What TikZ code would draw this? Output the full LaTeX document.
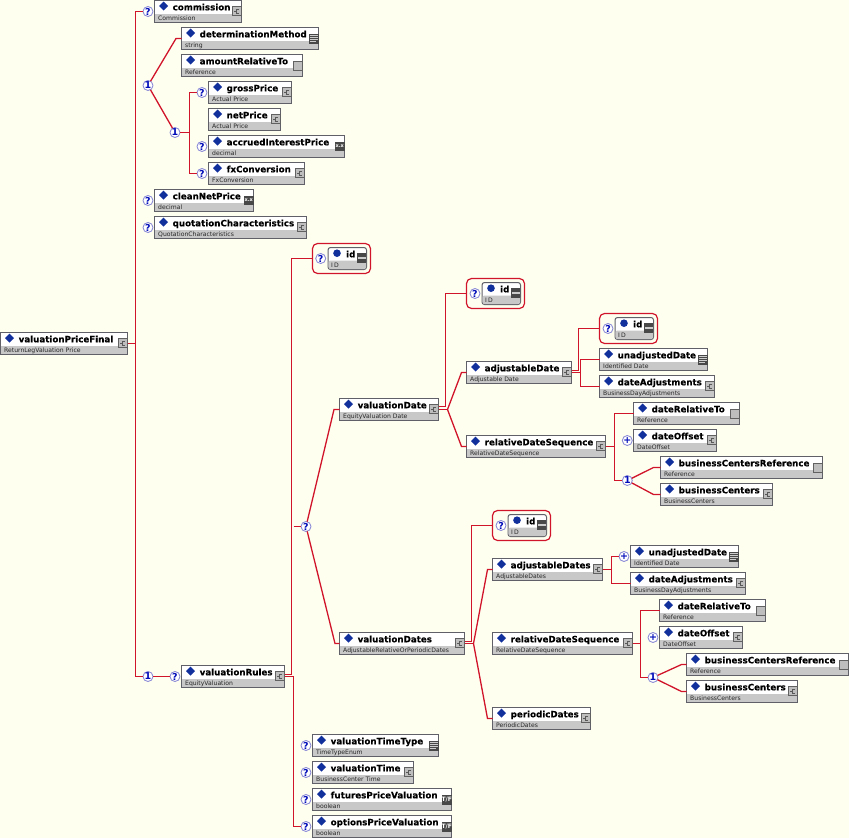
\documentclass[tikz,border=0pt]{standalone}
\usepackage{fontspec}
\setmainfont{DejaVu Sans}
\newfontface\titlef{DejaVu Sans Bold}[FakeBold=0.35]
\definecolor{bgc}{HTML}{FFFFF0}
\definecolor{redl}{HTML}{D0142A}
\definecolor{edgec}{HTML}{606068}
\definecolor{bandc}{HTML}{C8C8C8}
\definecolor{darkc}{HTML}{484848}
\definecolor{icong}{HTML}{BEBEBE}
\definecolor{bluem}{HTML}{12309C}
\definecolor{badgeb}{HTML}{000CB8}
\tikzset{
  conn/.style={draw=redl,line width=1.3pt},
  boxn/.style={draw=edgec,line width=1pt,fill=white,inner sep=0pt,outer sep=0pt,minimum height=22pt},
  attrn/.style={boxn,rounded corners=2.5pt},
  framen/.style={draw=redl,line width=1.2pt,rounded corners=5pt,inner sep=0pt,outer sep=0pt,minimum width=58pt,minimum height=30pt},
  badgen/.style={circle,draw=black!35!blue!45,line width=.9pt,fill=white,inner sep=0pt,outer sep=0pt,minimum size=10pt,text=badgeb,font=\fontsize{9.5}{9.5}\selectfont\bfseries},
  titlen/.style={anchor=base west,inner sep=0pt,font=\fontsize{8.7}{9}\titlef,text=black},
  subn/.style={anchor=base west,inner sep=0pt,font=\fontsize{6.1}{6.5}\selectfont,text=black!85},
  icont/.style={inner sep=0pt,text=white,font=\fontsize{5}{5}\selectfont\bfseries},
}
% icons: #1 right edge, #2 box top, #3 name
\newcommand\icC[3]{\filldraw[draw=black!62,fill=icong,line width=.8pt] (#1-9,#2+6) rectangle (#1-.5,#2+15);
  \draw[black!65,line width=.5pt] (#1-7.5,#2+10.5) -- (#1-5.5,#2+10.5) (#1-2.5,#2+8.5) -- (#1-5.5,#2+8.5) -- (#1-5.5,#2+12.5) -- (#1-2.5,#2+12.5);}
\newcommand\icE[3]{\filldraw[draw=black!62,fill=icong,line width=.8pt] (#1-9,#2+6.5) rectangle (#1-.5,#2+15.5);}
\newcommand\icL[3]{\fill[darkc] (#1-9.5,#2+6) rectangle (#1,#2+16);
  \draw[white!80!black,line width=.6pt] (#1-8.5,#2+8) -- (#1-1,#2+8) (#1-8.5,#2+10) -- (#1-1,#2+10) (#1-8.5,#2+12) -- (#1-1,#2+12) (#1-8.5,#2+14) -- (#1-3,#2+14);}
\newcommand\icX[3]{\fill[darkc] (#1-9.5,#2+6) rectangle (#1,#2+15.5);
  \node[icont] (#3i) at (#1-4.75,#2+11) {x.x};}
\newcommand\icT[3]{\fill[darkc] (#1-9.5,#2+6) rectangle (#1,#2+16);
  \node[icont,font=\fontsize{6}{6}\selectfont\bfseries] (#3i) at (#1-4.75,#2+11) {T/F};}
\newcommand\icI[3]{\fill[darkc] (#1-9.5,#2+5) rectangle (#1-.5,#2+15.5);
  \fill[white!80!black] (#1-9,#2+9.2) rectangle (#1-1,#2+11.3);}
% element: name, left, top, right, title, sub, icon
\newcommand\el[7]{%
  \pgfmathsetmacro\wdd{#4-(#2)}
  \node[boxn,minimum width=\wdd pt] (#1) at ({#2+\wdd/2},#3+11) {};
  \fill[bandc] (#2+.5,#3+13.5) rectangle (#4-.5,#3+21.5);
  \fill[bluem] (#2+9,#3+1) -- (#2+13.5,#3+5.5) -- (#2+9,#3+10) -- (#2+4.5,#3+5.5) -- cycle;
  \node[titlen] (#1t) at (#2+18,#3+9.8) {#5};
  \node[subn] (#1s) at (#2+3.5,#3+20.2) {#6};
  \csname ic#7\endcsname{#4}{#3}{#1}}
% attribute id: frame name, box name, frame left, top
\newcommand\att[4]{%
  \node[framen] (#1) at (#3+29,#4+15) {};
  \node[attrn,minimum width=38.5pt] (#2) at (#3+34.75,#4+15) {};
  \fill[bandc,rounded corners=2pt] (#3+16,#4+17) rectangle (#3+53.5,#4+25.5);
  \fill[bluem] (#3+24.5,#4+9.7) circle (3.8);
  \node[titlen] (#2t) at (#3+33.5,#4+13.8) {id};
  \node[subn] (#2s) at (#3+18.5,#4+24.2) {I\,D};
  \icI{#3+54}{#4+4}{#2}}
\newcommand\bd[4]{\node[badgen] (#1) at (#2,#3) {#4};}
\begin{document}
\begin{tikzpicture}[x=1pt,y=-1pt]
\useasboundingbox (0,0) rectangle (849,838);
\fill[bgc] (0,0) rectangle (849,838);
% elements
\el{vpf}{0.5}{332.5}{127.5}{valuationPriceFinal}{ReturnLegValuation Price}{C}
\el{com}{154.5}{0.5}{241.5}{commission}{Commission}{C}
\el{dm}{181.5}{27.5}{318.5}{determinationMethod}{string}{L}
\el{art}{181.5}{54.5}{302.5}{amountRelativeTo}{Reference}{E}
\el{gp}{208.5}{81.5}{291.5}{grossPrice}{Actual Price}{C}
\el{np}{208.5}{108.5}{280.5}{netPrice}{Actual Price}{C}
\el{aip}{208.5}{135.5}{344.5}{accruedInterestPrice}{decimal}{X}
\el{fx}{208.5}{162.5}{304.5}{fxConversion}{FxConversion}{C}
\el{cnp}{154.5}{189.5}{253.5}{cleanNetPrice}{decimal}{X}
\el{qc}{154.5}{216.5}{306.5}{quotationCharacteristics}{QuotationCharacteristics}{C}
\el{vr}{181.5}{665.5}{284.5}{valuationRules}{EquityValuation}{C}
\att{fa}{ia}{312.5}{243.5}
\el{vd}{339.5}{398.5}{438.5}{valuationDate}{EquityValuation Date}{C}
\att{fb}{ib}{466.5}{278.5}
\el{ad}{466.5}{361.5}{571.5}{adjustableDate}{Adjustable Date}{C}
\el{rs}{466.5}{435.5}{605.5}{relativeDateSequence}{RelativeDateSequence}{C}
\att{fc}{ic}{599.5}{313.5}
\el{ud}{599.5}{348.5}{707.5}{unadjustedDate}{Identified Date}{L}
\el{da}{599.5}{375.5}{714.5}{dateAdjustments}{BusinessDayAdjustments}{C}
\el{drt}{633.5}{402.5}{739.5}{dateRelativeTo}{Reference}{E}
\el{dof}{633.5}{429.5}{716.5}{dateOffset}{DateOffset}{C}
\el{bcr}{660.5}{456.5}{822.5}{businessCentersReference}{Reference}{E}
\el{bc}{660.5}{483.5}{772.5}{businessCenters}{BusinessCenters}{C}
\el{vds}{339.5}{632.5}{464.5}{valuationDates}{AdjustableRelativeOrPeriodicDates}{C}
\att{fd}{id}{492.5}{510.5}
\el{ads}{492.5}{558.5}{602.5}{adjustableDates}{AdjustableDates}{C}
\el{rsb}{492.5}{632.5}{632.5}{relativeDateSequence}{RelativeDateSequence}{C}
\el{pd}{492.5}{707.5}{590.5}{periodicDates}{PeriodicDates}{C}
\el{udb}{630.5}{545.5}{738.5}{unadjustedDate}{Identified Date}{L}
\el{dab}{630.5}{572.5}{745.5}{dateAdjustments}{BusinessDayAdjustments}{C}
\el{drb}{659.5}{599.5}{765.5}{dateRelativeTo}{Reference}{E}
\el{dob}{659.5}{626.5}{742.5}{dateOffset}{DateOffset}{C}
\el{bcrb}{686.5}{653.5}{848.5}{businessCentersReference}{Reference}{E}
\el{bcb}{686.5}{680.5}{797.5}{businessCenters}{BusinessCenters}{C}
\el{vtt}{312.5}{734.5}{438.5}{valuationTimeType}{TimeTypeEnum}{L}
\el{vt}{312.5}{761.5}{413.5}{valuationTime}{BusinessCenter Time}{C}
\el{fpv}{312.5}{788.5}{451.5}{futuresPriceValuation}{boolean}{T}
\el{opv}{312.5}{815.5}{451.5}{optionsPriceValuation}{boolean}{T}
% badges
\bd{bCom}{148}{11.5}{?}
\bd{bCh}{148}{85.5}{1}
\bd{bCn}{148}{200.5}{?}
\bd{bQc}{148}{227.5}{?}
\bd{bCh2}{175}{132.5}{1}
\bd{bGp}{202}{92.5}{?}
\bd{bAi}{202}{146.5}{?}
\bd{bFx}{202}{173.5}{?}
\bd{bR1}{148}{676.5}{1}
\bd{bR2}{175}{676.5}{?}
\bd{bIa}{320.7}{258.5}{?}
\bd{bSq}{306}{526.5}{?}
\bd{bIb}{475}{293.5}{?}
\bd{bIc}{608}{328.5}{?}
\bd{bPo}{627.3}{440.5}{+}
\bd{bCo}{627.3}{480.5}{1}
\bd{bId}{501}{525.5}{?}
\bd{bUd}{624}{556.5}{+}
\bd{bPp}{653}{637.5}{+}
\bd{bCp}{653}{677.5}{1}
\bd{bTt}{306}{745.5}{?}
\bd{bTi}{306}{772.5}{?}
\bd{bFu}{306}{799.5}{?}
\bd{bOp}{306}{826.5}{?}
% junctions
\coordinate (tA) at (135.5,11.5);
\coordinate (tB) at (135.5,676.5);
\coordinate (cD) at (176,38.5);
\coordinate (c2T) at (189.5,92.5);
\coordinate (c2M) at (189.5,132.5);
\coordinate (c2B) at (189.5,173.5);
\coordinate (vrU) at (291.5,674.5);
\coordinate (vrD) at (293.5,676.5);
\coordinate (sU) at (334,409.5);
\coordinate (sD) at (335,643.5);
\coordinate (vdU) at (445.5,406.5);
\coordinate (vdD) at (447.5,409.5);
\coordinate (vdA) at (461.5,372.5);
\coordinate (vdB) at (461.5,446.5);
\coordinate (adU) at (578.5,370.5);
\coordinate (adD) at (580.5,372.5);
\coordinate (rsJ) at (614.5,446.5);
\coordinate (boA) at (653.5,467.5);
\coordinate (boB) at (653.5,494.5);
\coordinate (vsU) at (471.5,641.5);
\coordinate (vsD) at (473.5,643.5);
\coordinate (vsA) at (487.5,569.5);
\coordinate (vsB) at (487.5,718.5);
\coordinate (adsJ) at (611.5,569.5);
\coordinate (rbJ) at (640.5,643.5);
\coordinate (bpA) at (681.5,664.5);
\coordinate (bpB) at (681.5,691.5);
% connectors
\draw[conn] (bCom) -- (tA) -- (tB) -- (bR1);
\draw[conn] (vpf.east) -- (vpf.east -| tA);
\draw[conn] (bR1) -- (bR2);
\draw[conn] (bCh) -- (cD) -- (dm.west);
\draw[conn] (bCh) -- (bCh2);
\draw[conn] (bCh2) -- (c2M);
\draw[conn] (bGp) -- (c2T) -- (c2B) -- (bFx);
\draw[conn] (vr.east |- vrU) -- (vrU) -- (vrU |- fa.west) -- (fa.west);
\draw[conn] (vr.east |- vrD) -- (vrD) -- (vrD |- bOp) -- (bOp);
\draw[conn] (vrD |- bSq) -- (bSq);
\draw[conn] (vd.west) -- (sU) -- (bSq) -- (sD) -- (vds.west);
\draw[conn] (vd.east |- vdU) -- (vdU) -- (vdU |- fb.west) -- (fb.west);
\draw[conn] (vd.east |- vdD) -- (vdD);
\draw[conn] (ad.west) -- (vdA) -- (vdD) -- (vdB) -- (rs.west);
\draw[conn] (ad.east |- adU) -- (adU) -- (adU |- fc.west) -- (fc.west);
\draw[conn] (ad.east |- adD) -- (adD);
\draw[conn] (ud.west) -- (ud.west -| adD) -- (da.west -| adD) -- (da.west);
\draw[conn] (rs.east) -- (rsJ);
\draw[conn] (drt.west) -- (drt.west -| rsJ) -- (bCo -| rsJ) -- (bCo);
\draw[conn] (bc.west) -- (boB) -- (bCo) -- (boA) -- (bcr.west);
\draw[conn] (vds.east |- vsU) -- (vsU) -- (vsU |- fd.west) -- (fd.west);
\draw[conn] (vds.east |- vsD) -- (vsD);
\draw[conn] (ads.west) -- (vsA) -- (vsD) -- (vsB) -- (pd.west);
\draw[conn] (ads.east) -- (adsJ);
\draw[conn] (bUd) -- (bUd -| adsJ) -- (dab.west -| adsJ) -- (dab.west);
\draw[conn] (rsb.east) -- (rbJ);
\draw[conn] (drb.west) -- (drb.west -| rbJ) -- (bCp -| rbJ) -- (bCp);
\draw[conn] (bcb.west) -- (bpB) -- (bCp) -- (bpA) -- (bcrb.west);
\end{tikzpicture}
\end{document}
